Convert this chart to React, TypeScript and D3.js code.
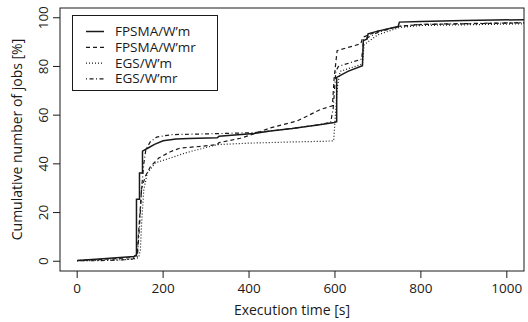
import React from "react";
import * as d3 from "d3";

const xTicks = [0, 200, 400, 600, 800, 1000];
const yTicks = [0, 20, 40, 60, 80, 100];

const fpsmaMT = [0, 60, 132, 138, 138, 145, 145, 152, 152, 165, 180, 200, 230, 260, 326, 330, 411, 450, 500, 560, 598, 604, 604, 630, 664, 666, 675, 677, 700, 747, 750, 800, 900, 1040];
const fpsmaMV = [0.3, 1, 2, 2.5, 25.5, 25.5, 36.2, 36.2, 45.2, 46.5, 48, 49.5, 50.2, 50.4, 50.7, 51.3, 52.5, 53.5, 54.5, 56, 57, 57.3, 75.5, 78, 80.3, 90.6, 91.3, 93.4, 94.5, 96.4, 98.2, 98.5, 98.9, 99.2];

const fpsmaMrT = [0, 60, 130, 140, 143, 147, 150, 159, 171, 190, 217, 240, 290, 326, 330, 380, 419, 450, 512, 567, 594, 598, 605, 660, 665, 700, 750, 800, 1040];
const fpsmaMrV = [0.3, 0.8, 1.5, 3, 12, 22, 30, 35, 39, 42.4, 45, 46.5, 47.2, 47.9, 48.7, 50.5, 52.8, 54.8, 57.6, 62.4, 63.8, 75, 86.5, 89.3, 92, 94.5, 96.5, 97.2, 97.9];

const egsMT = [0, 60, 130, 143, 147, 150, 155, 163, 182, 229, 252, 326, 400, 500, 582, 597, 601, 606, 612, 664, 668, 700, 750, 800, 1040];
const egsMV = [0.2, 0.4, 0.8, 1.5, 4.5, 15.7, 29.3, 36.2, 40.4, 43.1, 44.5, 47.9, 48.5, 49, 49.3, 49.5, 60, 72, 78, 81, 89, 93, 96, 96.8, 97.5];

const egsMrT = [0, 40, 100, 130, 140, 145, 150, 155, 160, 170, 185, 220, 300, 411, 450, 500, 560, 590, 596, 602, 608, 662, 667, 700, 750, 800, 1040];
const egsMrV = [0.2, 0.2, 0.5, 1, 2, 14, 30, 40, 46, 49, 51, 52, 52.3, 52.8, 53.5, 54.5, 56, 57, 63, 78, 80, 83, 91, 94, 96.5, 97.3, 98];

const seriesNames = ["FPSMA/W\u2019m", "FPSMA/W\u2019mr", "EGS/W\u2019m", "EGS/W\u2019mr"];
const seriesT = [fpsmaMT, fpsmaMrT, egsMT, egsMrT];
const seriesV = [fpsmaMV, fpsmaMrV, egsMV, egsMrV];
const dashes = ["none", "4,3", "1,2", "1,2.5,4,2.5"];
const widths = [1.5, 1.2, 1.2, 1.2];

export default function App() {
  const W = 528, H = 322;
  const L = 60, R = 524, T = 8, B = 271;
  const x = d3.scaleLinear().domain([-40, 1040]).range([L, R]);
  const y = d3.scaleLinear().domain([-4, 104]).range([B, T]);
  const font = "'Open Sans', sans-serif";
  const col = "#1a1a1a";

  const lines = seriesT.map((ts, i) => {
    const pts: [number, number][] = ts.map((t, j) => [t, seriesV[i][j]]);
    return d3.line<[number, number]>().x(d => x(d[0])).y(d => y(d[1]))(pts) || "";
  });

  const legY = [31.5, 47.3, 63.1, 78.9];

  return (
    <svg width={W} height={H} style={{ position: "fixed", left: 0, top: 0, display: "block", background: "#fff" }}>
      <defs>
        <clipPath id="plotclip">
          <rect x={L} y={T} width={R - L} height={B - T} />
        </clipPath>
      </defs>
      <g clipPath="url(#plotclip)">
        {lines.map((d, i) => (
          <path key={i} d={d} fill="none" stroke={col} strokeWidth={widths[i]} strokeDasharray={dashes[i]} />
        ))}
      </g>
      <rect x={L} y={T} width={R - L} height={B - T} fill="none" stroke={col} strokeWidth={1} />
      {xTicks.map(t => (
        <g key={t}>
          <line x1={x(t)} x2={x(t)} y1={B} y2={B + 7} stroke={col} strokeWidth={1} />
          <text x={x(t)} y={293} textAnchor="middle" fontFamily={font} fontSize={13.5} fill={col}>{t}</text>
        </g>
      ))}
      {yTicks.map(t => (
        <g key={t}>
          <line x1={L - 7} x2={L} y1={y(t)} y2={y(t)} stroke={col} strokeWidth={1} />
          <text transform={`translate(48,${y(t)}) rotate(-90)`} textAnchor="middle" fontFamily={font} fontSize={13.5} fill={col}>{t}</text>
        </g>
      ))}
      <text x={(L + R) / 2} y={315} textAnchor="middle" fontFamily={font} fontSize={14} fill={col}>Execution time [s]</text>
      <text transform={`translate(22,${(T + B) / 2}) rotate(-90)`} textAnchor="middle" fontFamily={font} fontSize={14} fill={col}>Cumulative number of jobs [%]</text>
      <rect x={72.5} y={15.5} width={145} height={75} fill="#fff" stroke={col} strokeWidth={1} />
      {seriesNames.map((n, i) => (
        <g key={n}>
          <line x1={86} x2={104} y1={legY[i]} y2={legY[i]} stroke={col} strokeWidth={widths[i]} strokeDasharray={dashes[i]} />
          <text x={115} y={legY[i] + 4.5} fontFamily={font} fontSize={13.5} fill={col}>{n}</text>
        </g>
      ))}
    </svg>
  );
}
